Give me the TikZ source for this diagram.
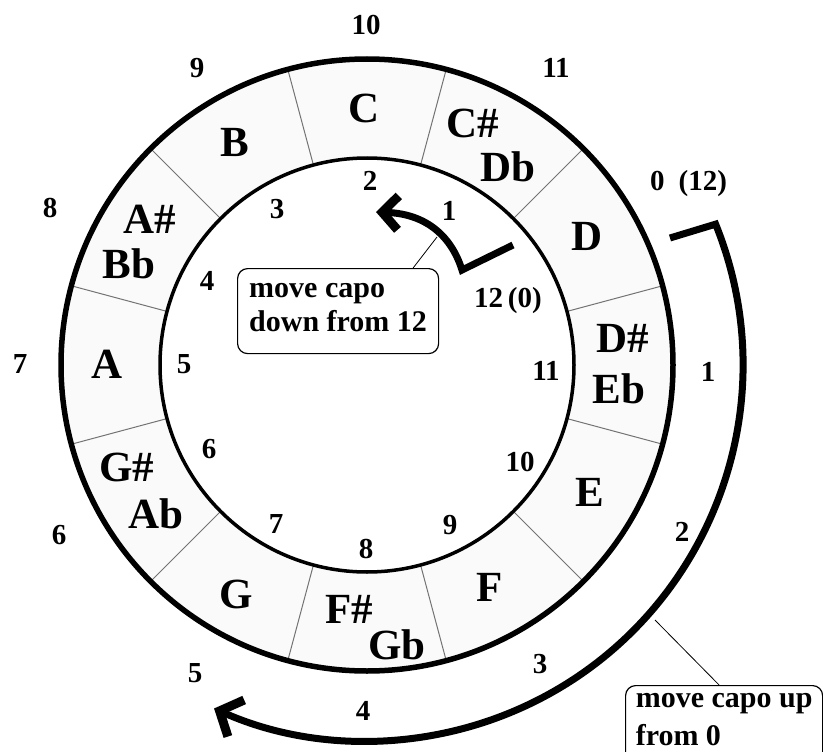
\documentclass[tikz,border=0pt]{standalone}
\usepackage{fontspec}
\setmainfont{Liberation Serif}
\usetikzlibrary{arrows.meta}
\begin{document}
\begin{tikzpicture}[x=1pt,y=1pt,
  note/.style={font=\fontsize{43}{45}\selectfont\bfseries, anchor=base, inner sep=0pt},
  num/.style={font=\fontsize{29}{32}\selectfont\bfseries, anchor=base, inner sep=0pt},
  callout/.style={draw, rounded corners=10pt, line width=1.2pt, align=left, anchor=north west, inner xsep=0pt, inner ysep=0pt},
  divider/.style={draw=black!55, line width=1pt},
  bigarrow/.style={line width=7pt, line join=miter, -{Straight Barb[length=18pt,width=40pt,line width=9pt]}},
  smallarrow/.style={line width=7pt, line join=miter, -{Straight Barb[length=16pt,width=34pt,line width=9pt]}},
  pointer/.style={line width=0.8pt}
]
\useasboundingbox (0,0) rectangle (823,-752);
\clip (0,0) rectangle (823,-752);
\coordinate (c) at (367,-365);
% ring
\fill[black!2, even odd rule] (c) circle (306) (c) circle (207);
\foreach \a in {15,45,...,345}
  \draw[divider] ([shift={(\a:207)}]c) -- ([shift={(\a:306)}]c);
\draw[line width=5.5pt] (c) circle (306);
\draw[line width=3.5pt] (c) circle (207);

% note names
\node[note] (nC)  at (364,-122) {C};
\node[note] (nCs) at (473,-137) {C\#};
\node[note] (nDb) at (508,-182) {Db};
\node[note] (nD)  at (587,-250) {D};
\node[note] (nDs) at (623,-352) {D\#};
\node[note] (nEb) at (619,-403) {Eb};
\node[note] (nE)  at (590,-506) {E};
\node[note] (nF)  at (490,-601) {F};
\node[note] (nFs) at (349,-623) {F\#};
\node[note] (nGb) at (397,-659) {Gb};
\node[note] (nG)  at (236,-608) {G};
\node[note] (nGs) at (127,-481) {G\#};
\node[note] (nAb) at (156,-528) {Ab};
\node[note] (nA)  at (107,-378) {A};
\node[note] (nAs) at (150,-233) {A\#};
\node[note] (nBb) at (129,-278) {Bb};
\node[note] (nB)  at (235,-157) {B};

% outer numbers
\node[num] (o10) at (366,-35) {10};
\node[num] (o11) at (556,-78) {11};
\node[num, anchor=base west] (o0) at (650,-190) {0\hspace{14pt}(12)};
\node[num] (o1) at (708,-381) {1};
\node[num] (o2) at (682,-541) {2};
\node[num] (o3) at (540,-673) {3};
\node[num] (o4) at (363,-720) {4};
\node[num] (o5) at (195,-682) {5};
\node[num] (o6) at (59,-544) {6};
\node[num] (o7) at (20,-373) {7};
\node[num] (o8) at (50,-217) {8};
\node[num] (o9) at (197,-78) {9};

% inner numbers
\node[num] (i1) at (449,-220) {1};
\node[num] (i2) at (370,-190) {2};
\node[num] (i3) at (277,-218) {3};
\node[num] (i4) at (207,-290) {4};
\node[num] (i5) at (184,-373) {5};
\node[num] (i6) at (209,-458) {6};
\node[num] (i7) at (276,-533) {7};
\node[num] (i8) at (366,-558) {8};
\node[num] (i9) at (450,-534) {9};
\node[num] (i10) at (520,-471) {10};
\node[num] (i11) at (546,-380) {11};
\node[num] (i12) at (508,-307) {12\,(0)};

% big arrow (move capo up)
\coordinate (bstart) at (670,-238);
\coordinate (bcorner) at ([shift={(22:376)}]c);
\draw[bigarrow] (bstart) -- (bcorner) arc[start angle=22, end angle=-114, radius=376];

% small arrow (move capo down)
\coordinate (sstart) at (513,-245);
\coordinate (scorner) at (462,-270);
\coordinate (send) at (376,-212);
\draw[smallarrow] (sstart) -- (scorner) .. controls (452,-238) and (428,-214) .. (send);

% callouts
\node[callout, font=\fontsize{30}{34}\selectfont\bfseries, minimum width=201pt] (box1) at (237,-268)
  {\rule{0pt}{29pt}move capo\\down from 12\rule[-22pt]{0pt}{0pt}};
\node[callout, font=\fontsize{30}{38}\selectfont\bfseries, minimum width=197pt] (box2) at (625,-685)
  {\rule{0pt}{22pt}move capo up\\from 0\rule[-30pt]{0pt}{0pt}};

\coordinate (p1) at (437,-237);
\draw[pointer] (p1) -- ([xshift=75pt]box1.north);
\coordinate (p2) at (655,-620);
\draw[pointer] (p2) -- ([xshift=-5pt]box2.north);
\end{tikzpicture}
\end{document}
